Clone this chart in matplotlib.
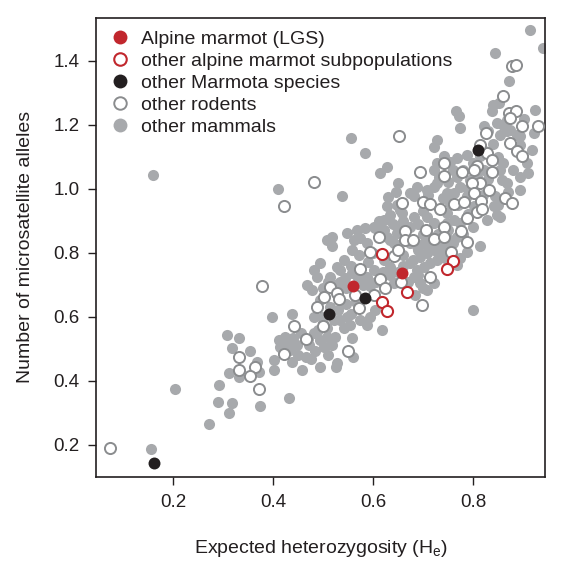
import matplotlib
matplotlib.use("Agg")
import matplotlib.pyplot as plt
from matplotlib.lines import Line2D

plt.rcParams['font.family'] = ['Liberation Sans', 'DejaVu Sans']

# other mammals (grey filled): (He, number of alleles)
mammals_he = [
    0.913, 0.939, 0.843, 0.871, 0.159, 0.409, 0.537, 0.555, 0.584, 0.799, 0.203, 0.156, 0.271, 0.432,
    0.840, 0.851, 0.837, 0.766, 0.771, 0.773, 0.924, 0.901, 0.867, 0.847, 0.821, 0.874, 0.887, 0.727,
    0.721, 0.917, 0.854, 0.894, 0.894, 0.787, 0.767, 0.754, 0.727, 0.721, 0.731, 0.627, 0.614, 0.821,
    0.807, 0.794, 0.857, 0.649, 0.844, 0.787, 0.774, 0.761, 0.754, 0.674, 0.707, 0.721, 0.727, 0.627,
    0.647, 0.657, 0.634, 0.621, 0.611, 0.604, 0.847, 0.567, 0.584, 0.601, 0.574, 0.517, 0.507, 0.517,
    0.557, 0.571, 0.814, 0.787, 0.774, 0.767, 0.744, 0.487, 0.467, 0.527, 0.557, 0.534, 0.514, 0.544,
    0.684, 0.617, 0.587, 0.594, 0.604, 0.534, 0.554, 0.541, 0.557, 0.517, 0.559, 0.527, 0.477, 0.494,
    0.514, 0.481, 0.521, 0.547, 0.574, 0.397, 0.437, 0.307, 0.331, 0.317, 0.354, 0.367, 0.311, 0.371,
    0.291, 0.289, 0.317, 0.373, 0.312, 0.411, 0.424, 0.414, 0.434, 0.447, 0.401, 0.401, 0.437, 0.457,
    0.466, 0.481, 0.494, 0.507, 0.501, 0.494, 0.526, 0.471, 0.484, 0.332,
    0.660, 0.680, 0.694, 0.707, 0.721, 0.734, 0.674, 0.687, 0.701, 0.727, 0.707, 0.721, 0.747, 0.761,
    0.774, 0.681, 0.674, 0.647, 0.634, 0.687, 0.681, 0.654, 0.747, 0.767, 0.741, 0.814, 0.674, 0.687,
    0.701, 0.714, 0.727, 0.681, 0.694, 0.707, 0.721, 0.621, 0.634, 0.634, 0.641, 0.601, 0.587, 0.594,
    0.541, 0.534, 0.494, 0.481,
    0.867, 0.921, 0.907, 0.894, 0.867, 0.854, 0.894, 0.841, 0.801, 0.827, 0.854, 0.747, 0.767, 0.754,
    0.641, 0.627, 0.621, 0.587, 0.561, 0.547, 0.507, 0.524,
    0.700, 0.690, 0.715, 0.730, 0.750, 0.760, 0.780, 0.800, 0.790, 0.770, 0.740, 0.710, 0.700, 0.660,
    0.640, 0.655, 0.690, 0.710, 0.740, 0.660, 0.650, 0.670, 0.690, 0.700, 0.620, 0.605, 0.590, 0.600,
    0.555, 0.570, 0.580, 0.545, 0.525, 0.510, 0.500, 0.530, 0.555, 0.565, 0.545, 0.500, 0.470, 0.455,
    0.440, 0.430, 0.420, 0.450, 0.475, 0.510, 0.490, 0.500,
    0.780, 0.800, 0.820, 0.840, 0.830, 0.860, 0.850, 0.860, 0.880, 0.910, 0.870, 0.850, 0.820, 0.760,
    0.750, 0.790, 0.830, 0.900, 0.630, 0.645,
]
mammals_na = [
    1.497, 1.440, 1.424, 1.338, 1.044, 0.999, 0.979, 1.158, 1.113, 0.622, 0.375, 0.187, 0.266, 0.346,
    1.263, 1.268, 1.242, 1.242, 1.228, 1.190, 1.245, 1.218, 1.216, 1.205, 1.195, 1.184, 1.169, 1.153,
    1.132, 1.122, 1.169, 1.164, 1.138, 1.106, 1.096, 1.085, 1.080, 1.059, 1.038, 1.068, 1.049, 1.059,
    1.038, 1.028, 1.028, 1.018, 0.976, 0.976, 1.007, 0.987, 0.955, 0.987, 0.997, 1.007, 1.018, 0.945,
    0.950, 0.924, 0.919, 0.903, 0.898, 0.877, 0.919, 0.872, 0.877, 0.882, 0.846, 0.851, 0.841, 0.820,
    0.809, 0.794, 0.820, 0.804, 0.783, 0.763, 0.783, 0.726, 0.700, 0.757, 0.737, 0.710, 0.726, 0.721,
    0.669, 0.559, 0.575, 0.601, 0.622, 0.591, 0.575, 0.565, 0.533, 0.513, 0.476, 0.455, 0.684, 0.653,
    0.632, 0.601, 0.590, 0.601, 0.591, 0.601, 0.609, 0.544, 0.533, 0.502, 0.492, 0.460, 0.426, 0.429,
    0.388, 0.335, 0.330, 0.322, 0.299, 0.528, 0.538, 0.507, 0.497, 0.513, 0.466, 0.434, 0.460, 0.434,
    0.474, 0.549, 0.528, 0.538, 0.507, 0.445, 0.443, 0.513, 0.492, 0.413,
    0.794, 0.778, 0.788, 0.799, 0.809, 0.799, 0.830, 0.820, 0.830, 0.820, 0.913, 0.893, 0.924, 0.903,
    0.893, 0.913, 0.882, 0.862, 0.841, 1.007, 0.976, 0.934, 0.987, 1.038, 1.101, 1.101, 0.768, 0.747,
    0.757, 0.768, 0.778, 0.726, 0.705, 0.684, 0.705, 0.778, 0.757, 0.731, 0.705, 0.747, 0.726, 0.695,
    0.778, 0.747, 0.768, 0.747,
    1.179, 1.174, 1.080, 1.038, 1.018, 1.059, 0.997, 0.945, 0.945, 0.903, 0.913, 0.893, 0.851, 0.841,
    0.830, 0.851, 0.872, 0.830, 0.841, 0.862, 0.565, 0.538,
    0.860, 0.890, 0.850, 0.860, 0.870, 0.830, 0.860, 0.880, 0.920, 0.950, 0.970, 0.980, 0.930, 0.900,
    0.890, 0.875, 0.810, 0.820, 0.820, 0.760, 0.740, 0.710, 0.730, 0.690, 0.740, 0.710, 0.770, 0.800,
    0.760, 0.720, 0.700, 0.690, 0.700, 0.710, 0.690, 0.620, 0.610, 0.645, 0.640, 0.600, 0.530, 0.550,
    0.535, 0.520, 0.490, 0.480, 0.470, 0.480, 0.560, 0.580,
    1.060, 1.080, 1.120, 1.140, 1.180, 1.200, 1.100, 1.080, 1.060, 1.050, 0.990, 0.950, 0.980, 1.060,
    1.020, 1.000, 1.030, 1.100, 0.975, 0.990,
]

# other rodents (open grey)
rodents_he = [
    0.877, 0.886, 0.860, 0.871, 0.886, 0.874, 0.897, 0.929, 0.826, 0.874, 0.827, 0.887, 0.814, 0.897,
    0.837, 0.741, 0.694, 0.741, 0.777, 0.807, 0.837, 0.814, 0.797, 0.801, 0.831, 0.815, 0.864, 0.877,
    0.807, 0.787, 0.657, 0.699, 0.714, 0.734, 0.762, 0.782, 0.611, 0.663, 0.663, 0.679, 0.706, 0.722,
    0.742, 0.742, 0.775, 0.594, 0.642, 0.649, 0.755, 0.574, 0.514, 0.527, 0.502, 0.614, 0.624, 0.656,
    0.713, 0.564, 0.697, 0.601, 0.571, 0.531, 0.499, 0.549, 0.481, 0.421, 0.651, 0.377, 0.441, 0.331,
    0.364, 0.331, 0.354, 0.371, 0.422, 0.466, 0.487, 0.074, 0.801, 0.817, 0.787,
]
rodents_na = [
    1.382, 1.386, 1.290, 1.236, 1.244, 1.221, 1.195, 1.195, 1.174, 1.143, 1.111, 1.117, 1.138, 1.101,
    1.091, 1.081, 1.053, 1.041, 1.051, 1.072, 1.054, 1.018, 1.018, 0.988, 0.997, 0.963, 0.971, 0.957,
    0.926, 0.908, 0.955, 0.960, 0.952, 0.937, 0.953, 0.960, 0.849, 0.867, 0.841, 0.841, 0.872, 0.843,
    0.882, 0.849, 0.867, 0.804, 0.791, 0.809, 0.804, 0.749, 0.692, 0.674, 0.663, 0.719, 0.690, 0.710,
    0.726, 0.669, 0.638, 0.669, 0.627, 0.655, 0.570, 0.492, 1.021, 0.945, 1.164, 0.697, 0.570, 0.474,
    0.445, 0.434, 0.414, 0.374, 0.483, 0.530, 0.630, 0.190, 1.059, 0.936, 0.835,
]

# other alpine marmot subpopulations (open red)
alpine_sub_he = [0.617, 0.759, 0.748, 0.667, 0.617, 0.628]
alpine_sub_na = [0.797, 0.776, 0.750, 0.679, 0.648, 0.617]

# other Marmota species (black)
marmota_he = [0.584, 0.512, 0.161, 0.809]
marmota_na = [0.658, 0.609, 0.145, 1.122]

# Alpine marmot (LGS) (red filled)
lgs_he = [0.658, 0.559]
lgs_na = [0.737, 0.695]

grey = '#a7a9ac'
red = '#c1272d'
black = '#231f20'
ms = 64

fig = plt.figure(figsize=(5.65, 5.74), dpi=100)
ax = fig.add_axes([0.170, 0.169, 0.795, 0.800])

ax.scatter(mammals_he, mammals_na, s=ms, color=grey, linewidths=0, zorder=2)
ax.scatter(rodents_he, rodents_na, s=ms, facecolors='white', edgecolors='#8a8c8e', linewidths=1.4, zorder=3)
ax.scatter(alpine_sub_he, alpine_sub_na, s=ms, facecolors='white', edgecolors=red, linewidths=1.5, zorder=4)
ax.scatter(marmota_he, marmota_na, s=ms + 10, color=black, linewidths=0, zorder=5)
ax.scatter(lgs_he, lgs_na, s=ms + 10, color=red, linewidths=0, zorder=5)

ax.set_xlim(0.046, 0.944)
ax.set_ylim(0.10, 1.534)
ax.set_xticks([0.2, 0.4, 0.6, 0.8])
ax.set_yticks([0.2, 0.4, 0.6, 0.8, 1.0, 1.2, 1.4])
ax.tick_params(direction='out', length=6, width=1, labelsize=13.5, colors='#231f20', pad=6)
for s in ax.spines.values():
    s.set_linewidth(1.2)
    s.set_color('#231f20')

ax.set_xlabel('Expected heterozygosity (H$_\\mathregular{e}$)', fontsize=14, labelpad=20, color='#231f20')
ax.set_ylabel('Number of microsatellite alleles', fontsize=14, labelpad=14, color='#231f20')

handles = [
    Line2D([], [], marker='o', linestyle='', markersize=10, markerfacecolor=red, markeredgewidth=0),
    Line2D([], [], marker='o', linestyle='', markersize=9, markerfacecolor='white', markeredgecolor=red, markeredgewidth=1.5),
    Line2D([], [], marker='o', linestyle='', markersize=10, markerfacecolor=black, markeredgewidth=0),
    Line2D([], [], marker='o', linestyle='', markersize=9, markerfacecolor='white', markeredgecolor='#8a8c8e', markeredgewidth=1.4),
    Line2D([], [], marker='o', linestyle='', markersize=10, markerfacecolor=grey, markeredgewidth=0),
]
labels = ['Alpine marmot (LGS)', 'other alpine marmot subpopulations', 'other Marmota species',
          'other rodents', 'other mammals']
ax.legend(handles, labels, loc='upper left', frameon=False, fontsize=14, handletextpad=0.45,
          labelspacing=0.22, borderaxespad=0.25, handlelength=1.2, labelcolor='#231f20')

fig.savefig('out.png', dpi=100)
